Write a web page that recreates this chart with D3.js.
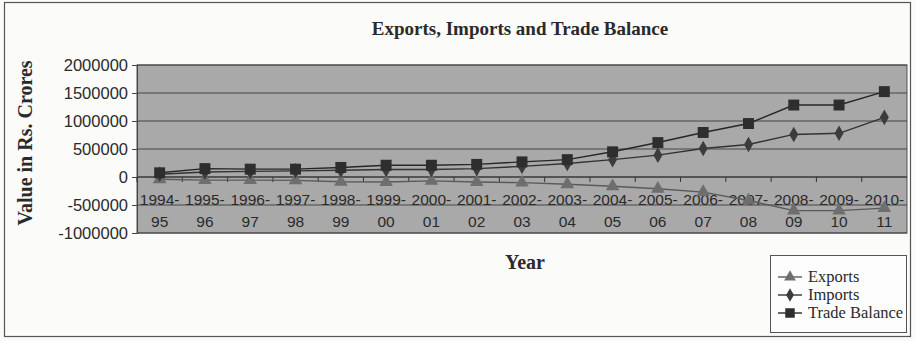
<!DOCTYPE html>
<html>
<head>
<meta charset="utf-8">
<script src="https://cdn.jsdelivr.net/npm/d3@7"></script>
<style>
  body { margin: 0; background: #fbfbfa; }
  svg text { fill: #2a2a2a; }
</style>
</head>
<body>
<div id="main"></div>
<script>
const ctx = {
    w: 916,
    h: 341,
    plot: { left: 137, right: 907, top: 65, bottom: 233 },
    PLOT_BG: "#a9a9a9",
    GRID: "#3a3a3a",
};

// categories (financial years)
const YEARS = ["1994-95", "1995-96", "1996-97", "1997-98", "1998-99", "1999-00", "2000-01",
    "2001-02", "2002-03", "2003-04", "2004-05", "2005-06", "2006-07", "2007-08",
    "2008-09", "2009-10", "2010-11"];

// series values (Rs. crores)
const EXPORTS = [-40000, -55000, -55000, -60000, -85000, -90000, -70000, -90000, -100000,
    -130000, -165000, -210000, -270000, -420000, -600000, -600000, -555000];
const IMPORTS = [50000, 90000, 100000, 110000, 120000, 135000, 135000, 150000, 190000,
    240000, 310000, 390000, 510000, 580000, 760000, 780000, 1065000];
const TRADE_BALANCE = [75000, 150000, 140000, 140000, 170000, 210000, 210000, 225000, 270000,
    310000, 450000, 615000, 795000, 955000, 1285000, 1285000, 1525000];

const Y_TICKS = [-1000000, -500000, 0, 500000, 1000000, 1500000, 2000000];

const SERIES = [
    { name: "Exports", values: EXPORTS, symbol: d3.symbolTriangle, size: 80, color: "#6e6e6e", line: "#5a5a5a" },
    { name: "Imports", values: IMPORTS, symbol: d3.symbolDiamond, size: 70, color: "#3c3c3c", line: "#333" },
    { name: "Trade Balance", values: TRADE_BALANCE, symbol: d3.symbolSquare, size: 120, color: "#2e2e2e", line: "#262626" },
];

const SERIF = "'Liberation Serif', 'Times New Roman', serif";

function createViz() {
    let svgEl = d3.select("#main").append("svg")
        .attr("width", ctx.w)
        .attr("height", ctx.h)
        .style("font-family", "'Liberation Sans', Arial, sans-serif");

    // outer frame
    svgEl.append("rect")
        .attr("x", 4.5).attr("y", 2.5)
        .attr("width", 906).attr("height", 334)
        .attr("fill", "none").attr("stroke", "#555").attr("stroke-width", 1.2);

    let p = ctx.plot;
    let x = d3.scaleBand().domain(YEARS).range([p.left, p.right]);
    let y = d3.scaleLinear().domain([-1000000, 2000000]).range([p.bottom, p.top]);

    // plot area
    svgEl.append("rect")
        .attr("x", p.left).attr("y", p.top)
        .attr("width", p.right - p.left).attr("height", p.bottom - p.top)
        .attr("fill", ctx.PLOT_BG)
        .attr("stroke", "#555");

    // gridlines
    svgEl.append("g").selectAll("line")
        .data(Y_TICKS)
        .enter()
        .append("line")
        .attr("x1", p.left).attr("x2", p.right)
        .attr("y1", (d) => y(d)).attr("y2", (d) => y(d))
        .attr("stroke", ctx.GRID)
        .attr("stroke-width", 0.9);

    // y axis (plain hyphen for negatives, like the original)
    let yAxis = svgEl.append("g")
        .attr("transform", `translate(${p.left},0)`)
        .call(d3.axisLeft(y).tickValues(Y_TICKS).tickFormat((d) => String(d)).tickSize(5).tickPadding(4));
    yAxis.select(".domain").attr("stroke", "#444");
    yAxis.selectAll(".tick line").attr("stroke", "#444");
    yAxis.selectAll("text")
        .attr("font-size", 16.5)
        .attr("font-family", "'Liberation Sans', Arial, sans-serif")
        .attr("fill", "#2a2a2a");

    // category axis crossing at zero, ticks between categories
    let xAxisG = svgEl.append("g");
    xAxisG.append("line")
        .attr("x1", p.left).attr("x2", p.right)
        .attr("y1", y(0)).attr("y2", y(0))
        .attr("stroke", "#333").attr("stroke-width", 1.2);
    xAxisG.selectAll("line.tk")
        .data(YEARS)
        .enter()
        .append("line")
        .classed("tk", true)
        .attr("x1", (d) => x(d)).attr("x2", (d) => x(d))
        .attr("y1", y(0)).attr("y2", y(0) + 5)
        .attr("stroke", "#333");

    // category labels, two lines each
    let labG = svgEl.append("g")
        .attr("font-size", 15.5)
        .attr("text-anchor", "middle");
    labG.selectAll("text.l1")
        .data(YEARS)
        .enter()
        .append("text")
        .attr("x", (d) => x(d) + x.bandwidth() / 2)
        .attr("y", 205)
        .text((d) => d.split("-")[0] + "-");
    labG.selectAll("text.l2")
        .data(YEARS)
        .enter()
        .append("text")
        .attr("x", (d) => x(d) + x.bandwidth() / 2)
        .attr("y", 227)
        .text((d) => d.split("-")[1]);

    // series lines and markers
    let line = d3.line()
        .x((d, i) => x(YEARS[i]) + x.bandwidth() / 2)
        .y((d) => y(d));
    SERIES.forEach(function (s) {
        let g = svgEl.append("g");
        g.append("path")
            .attr("d", line(s.values))
            .attr("fill", "none")
            .attr("stroke", s.line)
            .attr("stroke-width", 1.4);
        g.selectAll("path.m")
            .data(s.values)
            .enter()
            .append("path")
            .classed("m", true)
            .attr("d", d3.symbol().type(s.symbol).size(s.size))
            .attr("transform", (d, i) => `translate(${x(YEARS[i]) + x.bandwidth() / 2},${y(d)})`)
            .attr("fill", s.color);
    });

    // titles
    svgEl.append("text")
        .attr("x", 520).attr("y", 35)
        .attr("text-anchor", "middle")
        .attr("font-family", SERIF)
        .attr("font-weight", "bold")
        .attr("font-size", 19)
        .text("Exports, Imports and Trade Balance");
    svgEl.append("text")
        .attr("x", 525).attr("y", 269)
        .attr("text-anchor", "middle")
        .attr("font-family", SERIF)
        .attr("font-weight", "bold")
        .attr("font-size", 20)
        .text("Year");
    svgEl.append("text")
        .attr("transform", "translate(32,143) rotate(-90)")
        .attr("text-anchor", "middle")
        .attr("font-family", SERIF)
        .attr("font-weight", "bold")
        .attr("font-size", 20)
        .text("Value in Rs. Crores");

    // legend
    let legendG = svgEl.append("g")
        .attr("transform", "translate(770,255)");
    legendG.append("rect")
        .attr("x", 0.5).attr("y", 0.5)
        .attr("width", 136).attr("height", 77)
        .attr("fill", "#fdfdfd")
        .attr("stroke", "#555");
    SERIES.forEach(function (s, i) {
        let ly = 22 + i * 18;
        legendG.append("line")
            .attr("x1", 8).attr("x2", 32)
            .attr("y1", ly).attr("y2", ly)
            .attr("stroke", s.line).attr("stroke-width", 1.4);
        legendG.append("path")
            .attr("d", d3.symbol().type(s.symbol).size(s.size * 0.75))
            .attr("transform", `translate(20,${ly})`)
            .attr("fill", s.color);
        legendG.append("text")
            .attr("x", 38).attr("y", ly + 5)
            .attr("font-family", SERIF)
            .attr("font-size", 16.5)
            .text(s.name);
    });
}

createViz();
</script>
</body>
</html>
